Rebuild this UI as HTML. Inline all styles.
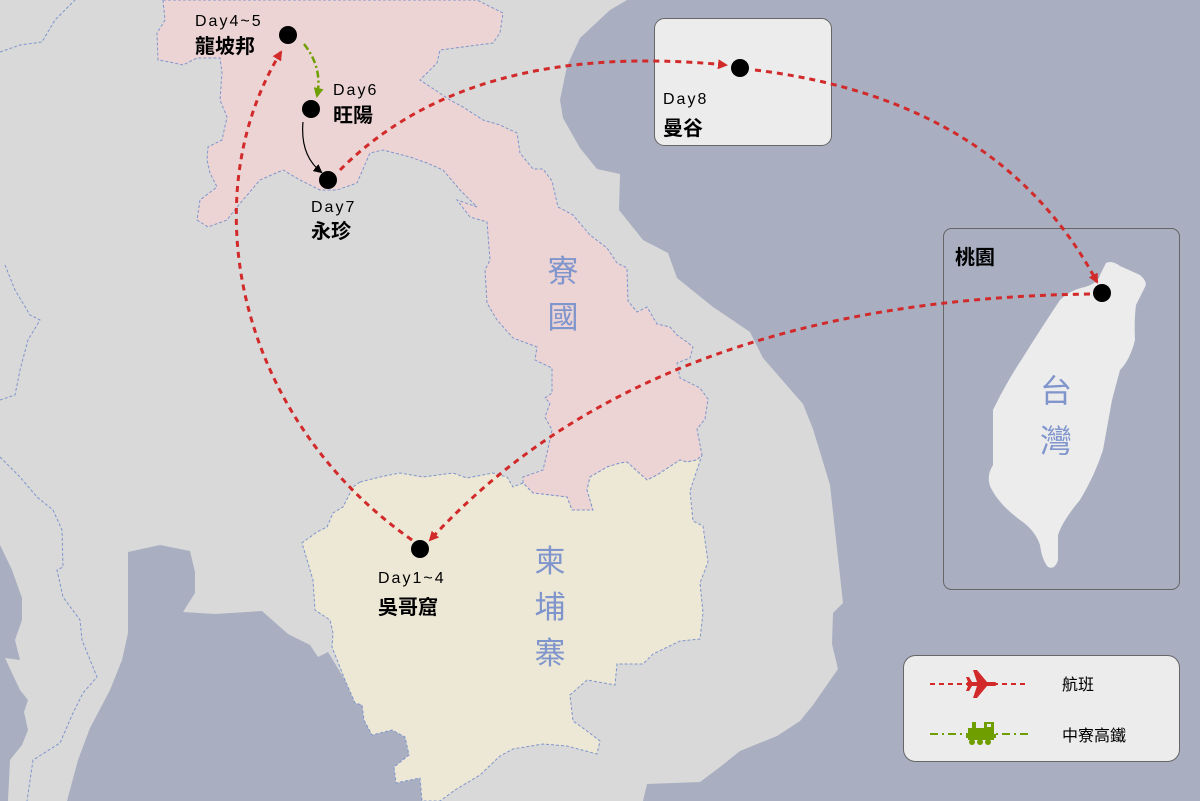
<!DOCTYPE html>
<html><head><meta charset="utf-8"><style>
html,body{margin:0;padding:0;background:#d9d9d9;}
svg{display:block;}
text{font-family:"Liberation Sans","Noto Sans CJK TC",sans-serif;}
</style></head><body>
<svg width="1200" height="801" viewBox="0 0 1200 801" xmlns="http://www.w3.org/2000/svg">
<defs>
<marker id="ar" markerWidth="10" markerHeight="10" refX="8" refY="5" orient="auto" markerUnits="userSpaceOnUse"><path d="M0,0 L10,5 L0,10 z" fill="#d22a2a"/></marker>
<marker id="ag" markerWidth="10" markerHeight="10" refX="8" refY="5" orient="auto" markerUnits="userSpaceOnUse"><path d="M0,0 L10,5 L0,10 z" fill="#6f9e00"/></marker>
<marker id="ab" markerWidth="9" markerHeight="9" refX="7" refY="4.5" orient="auto" markerUnits="userSpaceOnUse"><path d="M0,0 L9,4.5 L0,9 z" fill="#000"/></marker>
</defs>
<rect width="1200" height="801" fill="#d9d9d9"/>
<!-- east sea -->
<path fill="#a9afc1" d="M627,0 L1200,0 L1200,801 L643,801 L647,784 L700,782 L720,767 L740,751 L777,736 L800,721 L813,705 L838,669 L832,644 L833,613 L843,603 L830,485 L813,429 L803,404 L763,358 L750,332 L713,307 L677,278 L668,253 L643,240 L619,210 L620,174 L597,169 L580,148 L563,118 L560,100 L567,66 L580,38 L610,10 Z"/>
<!-- gulf of thailand -->
<path fill="#a9afc1" d="M128,552 L160,545 L190,551 L195,572 L195,593 L183,612 L215,614 L262,611 L288,634 L310,645 L318,657 L328,652 L345,680 L355,703 L362,705 L364,720 L372,735 L392,730 L405,737 L409,755 L394,767 L396,783 L420,778 L422,801 L67,801 L78,760 L90,728 L110,690 L122,660 L128,633 Z"/>
<!-- west sea -->
<path fill="#a9afc1" d="M0,545 L12,570 L22,598 L22,620 L15,640 L20,660 L5,658 L20,690 L28,700 L24,712 L28,730 L22,745 L10,760 L8,801 L0,801 Z"/>
<!-- Laos -->
<path fill="#ecd4d4" stroke="#7f95cc" stroke-width="1" stroke-dasharray="3,2" d="M163,0 L477,0 L503,13 L500,33 L493,43 L440,50 L437,63 L420,80 L450,100 L463,107 L483,120 L500,125 L517,133 L520,153 L533,169 L543,169 L552,181 L558,207 L573,215 L590,235 L607,248 L617,263 L627,268 L628,301 L637,312 L647,307 L657,324 L670,327 L677,335 L687,342 L693,347 L690,358 L677,363 L680,378 L700,388 L708,399 L705,419 L697,429 L702,455 L697,460 L687,462 L680,460 L657,475 L647,480 L627,462 L620,463 L607,467 L590,477 L587,490 L593,510 L572,510 L567,497 L533,493 L523,483 L523,477 L543,470 L547,453 L552,430 L545,417 L550,403 L545,398 L552,393 L552,368 L535,360 L537,347 L513,338 L497,320 L487,303 L485,270 L490,260 L487,222 L470,217 L457,200 L477,207 L460,190 L443,170 L427,163 L410,157 L383,150 L370,153 L357,183 L337,190 L320,190 L300,180 L283,170 L260,180 L237,207 L227,220 L208,227 L197,220 L200,200 L217,187 L210,173 L207,160 L208,147 L222,140 L227,117 L220,100 L222,73 L220,58 L197,58 L183,65 L170,62 L158,60 L157,33 L165,20 Z"/>
<!-- Cambodia -->
<path fill="#ede8d5" stroke="#7f95cc" stroke-width="1" stroke-dasharray="3,2" d="M360,482 L380,477 L400,473 L423,477 L453,473 L467,478 L493,473 L507,477 L513,487 L523,483 L533,493 L567,497 L572,510 L593,510 L587,490 L590,477 L607,467 L620,463 L627,462 L647,480 L657,475 L680,460 L687,462 L697,460 L702,455 L690,491 L693,521 L703,526 L708,562 L700,583 L703,613 L700,639 L680,641 L653,654 L643,664 L617,664 L615,685 L587,680 L570,695 L573,721 L587,731 L600,741 L597,754 L567,746 L543,744 L513,749 L500,756 L480,775 L455,790 L440,801 L422,801 L420,778 L396,783 L394,767 L409,755 L405,737 L392,730 L372,735 L364,720 L362,705 L355,703 L345,680 L332,647 L333,633 L330,620 L315,610 L313,580 L302,543 L317,532 L327,527 L333,513 L343,507 L353,487 Z"/>
<!-- other borders -->
<path fill="none" stroke="#7f95cc" stroke-width="1" stroke-dasharray="3,2" d="M0,457 L20,477 L37,497 L53,510 L62,530 L63,567 L57,570 L63,597 L80,620 L82,640 L97,677 L83,693 L73,713 L60,743 L33,760 L27,801"/>
<path fill="none" stroke="#7f95cc" stroke-width="1" stroke-dasharray="3,2" d="M0,52 L20,45 L42,42 L55,20 L70,5 L75,0"/>
<path fill="none" stroke="#7f95cc" stroke-width="1" stroke-dasharray="3,2" d="M5,265 L15,290 L30,315 L40,320 L28,340 L20,370 L15,395 L0,400"/>
<!-- country labels -->
<g fill="#7f95cc" font-size="31" text-anchor="middle">
<text x="563" y="282">寮</text><text x="563" y="328">國</text>
<text x="550" y="572">柬</text><text x="550" y="618">埔</text><text x="550" y="664">寨</text>
</g>
<!-- Day8 box -->
<rect x="654.5" y="18.5" width="177" height="127" rx="10" fill="#ececec" stroke="#666" stroke-width="1"/>
<!-- Taiwan box -->
<rect x="943.5" y="228.5" width="236" height="361" rx="8" fill="none" stroke="#666" stroke-width="1"/>
<path fill="#ececec" d="M1106,263 Q1112,260 1120,266 L1140,275 Q1148,282 1145,287 L1136,305 Q1134,320 1135,340 Q1130,360 1120,370 L1112,400 L1103,450 Q1095,475 1080,500 Q1063,520 1058,535 L1058,560 Q1055,570 1048,567 Q1042,560 1040,545 Q1035,530 1020,520 Q1000,505 992,490 Q985,478 993,465 L993,410 Q1005,385 1020,362 Q1040,330 1060,300 Q1070,290 1085,287 Q1098,283 1100,275 Z"/>
<g fill="#7f95cc" font-size="32" text-anchor="middle">
<text x="1056" y="402">台</text><text x="1056" y="452">灣</text>
</g>
<text x="955" y="264" font-size="20" font-weight="bold" fill="#000">桃園</text>
<!-- routes -->
<g fill="none" stroke="#d22a2a" stroke-width="3" stroke-dasharray="6,5">
<path d="M412,540 C240,420 190,200 281,52" marker-end="url(#ar)"/>
<path d="M340,170 Q470,40 726,65" marker-end="url(#ar)"/>
<path d="M755,70 Q1000,100 1097,282" marker-end="url(#ar)"/>
<path d="M1090,294 Q650,300 430,540" marker-end="url(#ar)"/>
</g>
<path d="M304,44 Q323,68 317,96" fill="none" stroke="#6f9e00" stroke-width="2.5" stroke-dasharray="7,3,2,3" marker-end="url(#ag)"/>
<path d="M303,122 Q300,155 321,172" fill="none" stroke="#000" stroke-width="1.2" marker-end="url(#ab)"/>
<!-- nodes -->
<g fill="#000">
<circle cx="288" cy="35" r="9"/><circle cx="311" cy="109" r="9"/><circle cx="328" cy="180" r="9"/>
<circle cx="740" cy="68" r="9"/><circle cx="1102" cy="293" r="9"/><circle cx="420" cy="549" r="9"/>
</g>
<!-- labels -->
<g fill="#000">
<text x="195" y="26" font-size="16" letter-spacing="2">Day4~5</text>
<text x="195" y="53" font-size="20" font-weight="bold">龍坡邦</text>
<text x="333" y="95" font-size="16" letter-spacing="2">Day6</text>
<text x="333" y="122" font-size="20" font-weight="bold">旺陽</text>
<text x="311" y="212" font-size="16" letter-spacing="2">Day7</text>
<text x="311" y="238" font-size="20" font-weight="bold">永珍</text>
<text x="663" y="104" font-size="16" letter-spacing="2">Day8</text>
<text x="663" y="135" font-size="20" font-weight="bold">曼谷</text>
<text x="378" y="583" font-size="16" letter-spacing="2">Day1~4</text>
<text x="378" y="614" font-size="20" font-weight="bold">吳哥窟</text>
</g>
<!-- legend -->
<rect x="903.5" y="655.5" width="276" height="106" rx="12" fill="#ececec" stroke="#666" stroke-width="1"/>
<line x1="930" y1="684" x2="1026" y2="684" stroke="#d22a2a" stroke-width="2" stroke-dasharray="5,4"/>
<g fill="#d22a2a" transform="translate(981,684)">
<path d="M-14,-2 L14,-2 Q18,0 14,2 L-14,2 Z"/>
<path d="M-4,-2 L-8,-14 L-4,-14 L6,-2 Z"/><path d="M-4,2 L-8,14 L-4,14 L6,2 Z"/>
<path d="M-13,-2 L-15,-7 L-12,-7 L-9,-2 Z"/><path d="M-13,2 L-15,7 L-12,7 L-9,2 Z"/>
</g>
<line x1="930" y1="734" x2="1030" y2="734" stroke="#6f9e00" stroke-width="2" stroke-dasharray="8,4,2,4"/>
<g fill="#6f9e00">
<rect x="968" y="728" width="26" height="12"/>
<rect x="984" y="722" width="10" height="8"/>
<rect x="972" y="722" width="4" height="6"/>
<rect x="966" y="734" width="30" height="4"/>
<circle cx="972" cy="742" r="3"/><circle cx="980" cy="742" r="3"/><circle cx="988" cy="742" r="3"/>
</g>
<rect x="987" y="724" width="4" height="3" fill="#ececec"/>
<text x="1062" y="690" font-size="16" fill="#000">航班</text>
<text x="1062" y="741" font-size="16" fill="#000">中寮高鐵</text>
</svg>
</body></html>
